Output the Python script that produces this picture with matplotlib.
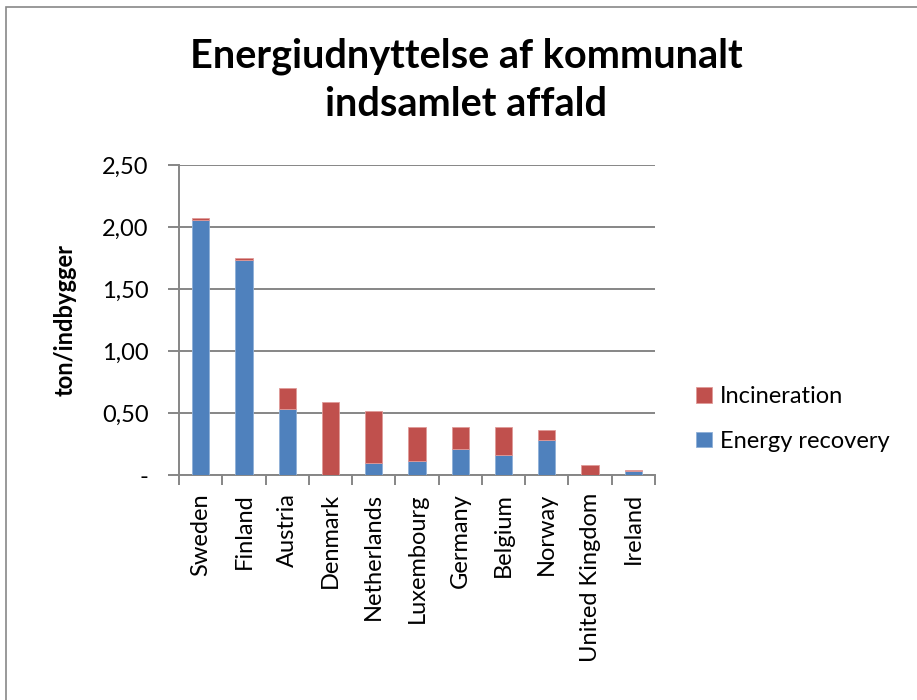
import matplotlib.pyplot as plt
from matplotlib.patches import Rectangle
from matplotlib.ticker import FixedLocator, FuncFormatter
import numpy as np

countries = ['Sweden', 'Finland', 'Austria', 'Denmark', 'Netherlands', 'Luxembourg',
             'Germany', 'Belgium', 'Norway', 'United Kingdom', 'Ireland']
energy_recovery = [2.06, 1.73, 0.53, 0.00, 0.10, 0.11, 0.21, 0.16, 0.28, 0.00, 0.03]
incineration = [0.01, 0.02, 0.17, 0.59, 0.42, 0.28, 0.18, 0.23, 0.08, 0.08, 0.01]
y_ticks = [0, 0.5, 1.0, 1.5, 2.0, 2.5]

plt.rcParams['font.family'] = ['Lato', 'DejaVu Sans']

blue = '#4f81bd'
red = '#c0504d'
grid_col = '#868686'

fig = plt.figure(figsize=(9.17, 7), dpi=100)
fig.patches.append(Rectangle((6 / 917, -0.01), 1.0, 1 - 7 / 700 + 0.01,
                             transform=fig.transFigure, fill=False,
                             edgecolor='#888888', linewidth=1.2))

ax = fig.add_axes([179 / 917, 1 - 475 / 700, 476 / 917, 310 / 700])
x = np.arange(len(countries))
b1 = ax.bar(x, energy_recovery, width=0.4, color=blue, edgecolor='#8fb0d8',
            linewidth=0.6, label='Energy recovery', zorder=3)
b2 = ax.bar(x, incineration, width=0.4, bottom=energy_recovery, color=red,
            edgecolor='#e09a98', linewidth=0.6, label='Incineration', zorder=3)

ax.set_xlim(-0.5, len(countries) - 0.5)
ax.set_ylim(0, 2.5)
ax.set_yticks(y_ticks)
ax.yaxis.set_major_formatter(FuncFormatter(
    lambda v, p: '-' if v == 0 else f'{v:.2f}'.replace('.', ',')))
ax.grid(axis='y', color=grid_col, linewidth=1.4, zorder=0)
ax.set_axisbelow(True)

ax.set_xticks(x)
ax.set_xticklabels(countries, rotation=90, fontsize=17)
ax.tick_params(axis='x', which='major', length=0, pad=13)
ax.xaxis.set_minor_locator(FixedLocator(np.arange(-0.5, len(countries), 1.0)))
ax.tick_params(axis='x', which='minor', length=7, width=1.4, color=grid_col)
ax.tick_params(axis='y', length=8, width=1.4, color=grid_col, labelsize=17, pad=14)

for s in ['top', 'right']:
    ax.spines[s].set_visible(False)
for s in ['left', 'bottom']:
    ax.spines[s].set_color(grid_col)
    ax.spines[s].set_linewidth(1.4)

ax.set_ylabel('ton/indbygger', fontsize=17, fontweight='bold', labelpad=18)

fig.text(466 / 917, 1 - 80 / 700, 'Energiudnyttelse af kommunalt\nindsamlet affald',
         ha='center', va='center', fontsize=28.5, fontweight='bold', linespacing=1.38)

fig.legend(handles=[b2, b1], labels=['Incineration', 'Energy recovery'],
           loc='center left', bbox_to_anchor=(675 / 917, 1 - 419 / 700),
           frameon=False, fontsize=17, handlelength=0.65, handleheight=0.65,
           labelspacing=1.0, handletextpad=0.35)

fig.savefig('out.png', dpi=100)
